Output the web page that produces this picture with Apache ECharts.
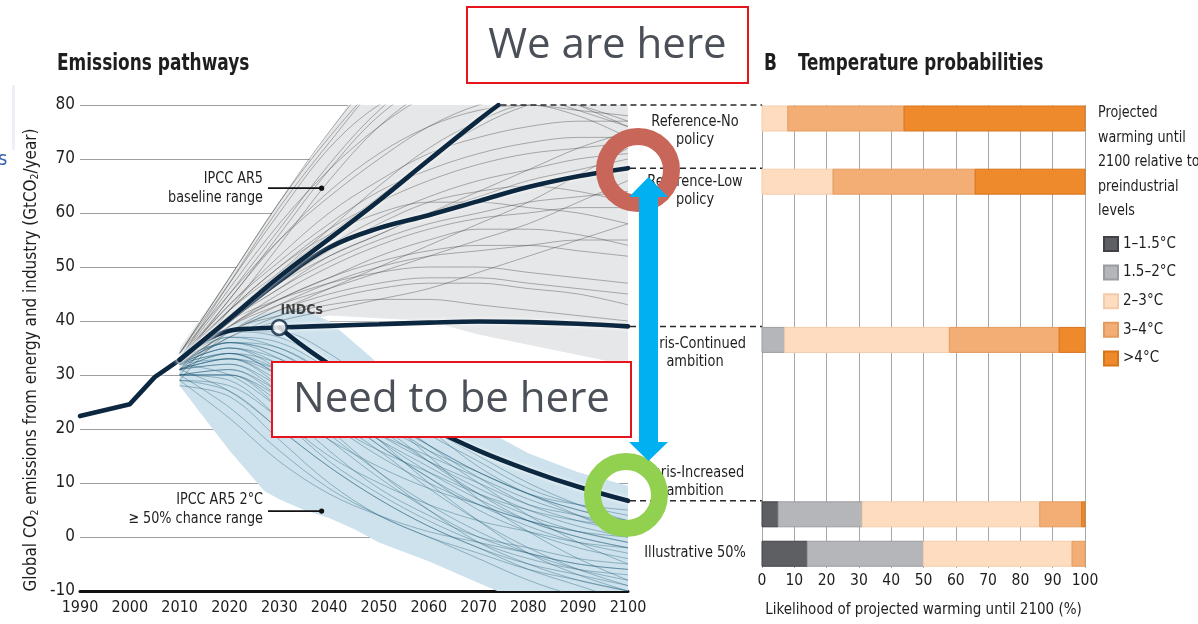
<!DOCTYPE html>
<html>
<head>
<meta charset="utf-8">
<title>Emissions pathways and temperature probabilities</title>
<script src="https://cdn.jsdelivr.net/npm/echarts@6/dist/echarts.min.js"></script>
<style>
  html, body { margin: 0; padding: 0; background: #ffffff; }
  #chart { width: 1198px; height: 624px; }
</style>
</head>
<body>
<div id="chart"></div>
<script>
// ---------- Data ----------
// Years used by the scenario ensembles
const runYears = [2010, 2020, 2030, 2040, 2050, 2060, 2070, 2080, 2090, 2100];

// Historical emissions (GtCO2/year)
const historical = [[1990, 22.4], [2000, 24.6], [2005, 29.6], [2010, 32.8]];

// Highlighted pathways
const indcPath = [[2010, 32.8], [2015, 36.3], [2020, 38.2], [2025, 38.6], [2030, 38.8]];
const parisContinued = [[2030, 38.8], [2040, 39.1], [2050, 39.4], [2060, 39.7], [2070, 39.9], [2080, 39.8], [2090, 39.5], [2100, 39.0]];
const parisIncreased = [[2030, 38.8], [2035, 35.2], [2040, 32.0], [2050, 26.0], [2060, 20.4], [2070, 16.0], [2080, 12.4], [2090, 9.3], [2100, 6.7]];
const referenceLow = [[2010, 32.8], [2020, 40.2], [2030, 47.4], [2040, 53.6], [2050, 57.2], [2060, 59.6], [2070, 62.2], [2080, 64.8], [2090, 66.8], [2100, 68.3]];
const referenceNo = [[2010, 32.8], [2020, 40.4], [2030, 48.2], [2040, 55.2], [2050, 62.3], [2060, 69.8], [2070, 77.2], [2074, 80.0]];
const indcPoint = [[2030, 38.8]];

// IPCC AR5 ranges: [year, low, high]
const baselineRange = [[2010, 30, 35], [2020, 35, 48], [2030, 39, 62], [2040, 41, 75], [2050, 40.5, 88], [2060, 40, 96], [2070, 37.5, 100], [2080, 35.6, 100], [2090, 33.7, 100], [2100, 31.8, 100]];
const twoDegreeRange = [[2010, 28, 34.5], [2015, 22, 37], [2020, 16, 39], [2027, 8.5, 41.5], [2030, 7, 42], [2035, 5, 42], [2040, 3.5, 40], [2045, 1.5, 36], [2050, -1, 32], [2060, -4.5, 26], [2070, -8.5, 20.5], [2075, -10.5, 18], [2080, -12, 15.5], [2090, -13, 12], [2100, -13, 9.5]];

// Individual baseline scenario runs (values at runYears)
const baselineRuns = [
  [33, 47, 61, 73, 84, 92, 97, 100, 101, 102],
  [34, 48, 62, 74, 84, 90, 94, 96, 97, 98],
  [33, 46, 58, 68, 76, 82, 86, 88, 89, 90],
  [32, 44, 55, 64, 71, 76, 79, 80, 79, 78],
  [33, 43, 52, 60, 66, 71, 74, 76, 77, 77],
  [32, 42, 50, 57, 62, 66, 69, 71, 72, 73],
  [33, 41, 48, 54, 59, 63, 66, 68, 70, 71],
  [32, 40, 46, 52, 56, 60, 63, 66, 68, 70],
  [33, 42, 49, 56, 63, 70, 76, 80, 82, 82],
  [32, 39, 45, 50, 54, 57, 59, 60, 61, 61],
  [33, 40, 46, 51, 55, 58, 60, 62, 63, 64],
  [32, 38, 43, 47, 50, 52, 53, 54, 55, 55],
  [33, 39, 44, 48, 51, 53, 54, 54, 53, 52],
  [32, 38, 42, 45, 47, 48, 48, 47, 46, 45],
  [33, 39, 43, 46, 49, 52, 55, 58, 62, 66],
  [32, 37, 41, 44, 46, 47, 47, 46, 45, 43],
  [33, 41, 49, 57, 65, 72, 77, 80, 78, 74],
  [32, 40, 47, 53, 58, 62, 64, 65, 64, 62],
  [33, 44, 56, 68, 78, 84, 86, 84, 80, 76],
  [34, 47, 60, 72, 80, 84, 84, 82, 79, 76],
  [32, 38, 42, 46, 50, 54, 58, 62, 67, 72],
  [33, 40, 44, 47, 49, 50, 50, 49, 48, 47],
  [31, 37, 40, 42, 44, 46, 49, 52, 55, 58],
  [33, 42, 50, 56, 60, 62, 62, 61, 60, 58],
  [34, 45, 55, 63, 70, 76, 80, 82, 80, 77],
  [30, 39, 44, 48, 52, 55, 57, 57, 56, 54],
  [33, 43, 51, 58, 64, 68, 71, 73, 74, 74],
  [29, 38, 41, 43, 44, 44, 43, 42, 41, 40],
  [33, 45, 57, 69, 79, 86, 90, 92, 92, 92],
  [32, 41, 47, 52, 56, 60, 64, 68, 72, 75],
  [34, 48, 62, 75, 86, 94, 98, 99, 99, 98],
  [31, 42, 54, 66, 76, 83, 88, 90, 88, 84]
];

// Individual 2°C (>=50% chance) scenario runs (values at runYears)
const mitigationRuns = [
  [32, 36, 34, 28, 21, 14, 8, 3, 0, -2],
  [31, 34, 30, 24, 17, 11, 5, 1, -2, -4],
  [33, 37, 36, 31, 24, 17, 11, 6, 3, 1],
  [30, 31, 26, 19, 12, 6, 1, -3, -6, -8],
  [32, 35, 32, 26, 20, 14, 9, 5, 2, 0],
  [31, 33, 28, 20, 12, 5, -1, -5, -8, -10],
  [30, 29, 22, 14, 8, 3, -1, -4, -6, -7],
  [33, 38, 38, 34, 27, 20, 13, 8, 5, 3],
  [32, 34, 30, 25, 19, 14, 10, 6, 4, 2],
  [29, 27, 20, 13, 7, 2, -2, -5, -7, -9],
  [31, 33, 31, 27, 22, 16, 10, 4, -1, -5],
  [32, 36, 35, 30, 23, 15, 7, 1, -4, -8],
  [30, 30, 25, 18, 11, 5, 0, -3, -5, -6],
  [33, 36, 33, 27, 21, 16, 12, 8, 6, 5],
  [31, 32, 27, 21, 15, 10, 6, 3, 1, 0],
  [32, 35, 33, 29, 25, 20, 15, 10, 6, 3],
  [30, 30, 24, 16, 9, 4, 0, -2, -4, -5],
  [31, 34, 32, 26, 18, 10, 3, -3, -7, -10],
  [33, 37, 35, 30, 25, 19, 14, 9, 6, 4],
  [29, 28, 22, 15, 10, 6, 3, 1, -1, -2],
  [32, 35, 31, 24, 17, 11, 6, 2, -1, -3],
  [31, 32, 28, 23, 18, 13, 8, 4, 1, -1],
  [30, 31, 27, 22, 16, 9, 3, -2, -6, -9],
  [33, 36, 34, 29, 23, 17, 12, 8, 5, 3],
  [32, 33, 29, 24, 19, 15, 11, 7, 4, 1],
  [31, 33, 30, 25, 18, 12, 7, 3, 0, -2],
  [30, 30, 26, 21, 16, 12, 8, 5, 3, 2],
  [32, 34, 31, 27, 22, 17, 12, 8, 4, 0],
  [28, 26, 18, 10, 4, 0, -4, -8, -11, -13],
  [33, 38, 37, 32, 26, 21, 16, 12, 9, 7],
  [30, 24, 16, 9, 4, 0, -3, -6, -8, -10],
  [31, 27, 20, 13, 7, 2, -2, -6, -9, -12],
  [29, 22, 14, 8, 4, 1, -1, -3, -5, -6],
  [32, 30, 24, 18, 13, 9, 6, 3, 1, -1]
];

// Temperature probabilities (likelihood %, per scenario row)
const scenarioNames = ['Reference-No\npolicy', 'Reference-Low\npolicy', 'Paris-Continued\nambition', 'Paris-Increased\nambition', 'Illustrative 50%'];
const warmingClasses = ['1–1.5°C', '1.5–2°C', '2–3°C', '3–4°C', '>4°C'];
const share1to15 = [0, 0, 0, 5, 14];
const share15to2 = [0, 0, 7, 26, 36];
const share2to3 = [8, 22, 51, 55, 46];
const share3to4 = [36, 44, 34, 13, 4];
const shareAbove4 = [56, 34, 8, 1, 0];

// Axis ticks
const yearTicks = [1990, 2000, 2010, 2020, 2030, 2040, 2050, 2060, 2070, 2080, 2090, 2100];
const emissionTicks = [-10, 0, 10, 20, 30, 40, 50, 60, 70, 80];
const likelihoodTicks = [0, 10, 20, 30, 40, 50, 60, 70, 80, 90, 100];

// ---------- Styles ----------
const NARROW = "'DejaVu Sans Condensed','Liberation Sans Narrow',sans-serif";
const INK = '#1e1e1e';
const NAVY = '#0c2740';
const classColors = ['#5d5f63', '#b5b6b9', '#fddcbf', '#f3ae75', '#ef8a2c'];
const classBorders = ['#404246', '#9b9c9f', '#f2ccaa', '#e39b5e', '#d8741a'];
const BAR_H = 25;

const last = arr => arr[arr.length - 1][1];
// Each probability row hangs below the 2100 level of its scenario
const rowLevels = [Math.min(80, last(referenceNo)), last(referenceLow), last(parisContinued), last(parisIncreased), -0.6];

const chart = echarts.init(document.getElementById('chart'), null, { renderer: 'canvas' });

function bandSeries(name, band, fill) {
  return {
    name: name, type: 'custom', xAxisIndex: 0, yAxisIndex: 0,
    clip: true, silent: true, z: 1,
    data: [[band[0][0], band[0][1]]],
    renderItem: function (params, api) {
      const upper = band.map(p => api.coord([p[0], p[2]]));
      const lower = band.slice().reverse().map(p => api.coord([p[0], p[1]]));
      return { type: 'polygon', shape: { points: upper.concat(lower) }, style: { fill: fill } };
    }
  };
}

function runSeries(runs, color) {
  return runs.map(r => ({
    type: 'line', xAxisIndex: 0, yAxisIndex: 0, silent: true,
    data: runYears.map((y, i) => [y, r[i]]),
    showSymbol: false, smooth: 0.35, z: 3,
    lineStyle: { color: color, width: 0.9 }
  }));
}

function pathway(data, smooth) {
  return {
    type: 'line', xAxisIndex: 0, yAxisIndex: 0, silent: true,
    data: data, showSymbol: false, smooth: smooth, z: 6,
    lineStyle: { color: NAVY, width: 4.6, cap: 'round', shadowColor: 'rgba(255,255,255,0.95)', shadowBlur: 4 }
  };
}

const classShares = [share1to15, share15to2, share2to3, share3to4, shareAbove4];
const barSeries = warmingClasses.map((cls, c) => {
  const items = [];
  scenarioNames.forEach((s, r) => {
    let start = 0;
    for (let k = 0; k < c; k++) start += classShares[k][r];
    const w = classShares[c][r];
    if (w > 0) items.push([start, start + w, rowLevels[r]]);
  });
  return {
    name: cls, type: 'custom', xAxisIndex: 1, yAxisIndex: 1, z: 4,
    itemStyle: { color: classColors[c], borderColor: classBorders[c], borderWidth: 1 },
    encode: { x: [0, 1], y: 2 },
    data: items,
    renderItem: function (params, api) {
      const a = api.coord([api.value(0), api.value(2)]);
      const b = api.coord([api.value(1), api.value(2)]);
      return {
        type: 'rect',
        shape: { x: a[0], y: a[1] + 1, width: b[0] - a[0], height: BAR_H },
        style: api.style({ lineWidth: 1 })
      };
    }
  };
});

const option = {
  animation: false,
  backgroundColor: '#ffffff',
  grid: [
    { left: 80, top: 105, width: 548, height: 486 },
    { left: 762, top: 105, width: 323, height: 463 }
  ],
  xAxis: [
    {
      gridIndex: 0, type: 'value', min: yearTicks[0], max: yearTicks[yearTicks.length - 1], interval: 10,
      axisLine: { show: true, onZero: false, lineStyle: { color: '#111', width: 3 } },
      axisTick: { show: false }, splitLine: { show: false },
      axisLabel: { fontFamily: NARROW, fontSize: 16, color: INK, margin: 9, formatter: v => String(v) }
    },
    {
      gridIndex: 1, type: 'value', min: likelihoodTicks[0], max: likelihoodTicks[likelihoodTicks.length - 1], interval: 10,
      axisLine: { show: false }, axisTick: { show: false },
      splitLine: { show: true, lineStyle: { color: '#a8a8a8', width: 1 } },
      axisLabel: { fontFamily: NARROW, fontSize: 15.5, color: INK, margin: 5, formatter: v => String(v) },
      name: 'Likelihood of projected warming until 2100 (%)', nameLocation: 'middle', nameGap: 35,
      nameTextStyle: { fontFamily: NARROW, fontSize: 15, color: INK }
    }
  ],
  yAxis: [
    {
      gridIndex: 0, type: 'value', min: emissionTicks[0], max: emissionTicks[emissionTicks.length - 1], interval: 10,
      axisLine: { show: false }, axisTick: { show: false },
      splitLine: { show: true, lineStyle: { color: '#9e9e9e', width: 1.2 } },
      axisLabel: { fontFamily: NARROW, fontSize: 17, color: INK, margin: 5 }
    },
    {
      gridIndex: 1, type: 'value', min: 80 - 463 / 5.4, max: 80, show: false,
      splitLine: { show: false }
    }
  ],
  legend: {
    data: warmingClasses, orient: 'vertical', left: 1098, top: 231,
    itemWidth: 14, itemHeight: 14, itemGap: 12.6, icon: 'rect', selectedMode: false,
    textStyle: { fontFamily: NARROW, fontSize: 15, color: INK, lineHeight: 14 }
  },
  series: [
    bandSeries('IPCC AR5 baseline range', baselineRange, '#e6e7e8'),
    bandSeries('IPCC AR5 2°C range', twoDegreeRange, '#cde2ec'),
    ...runSeries(baselineRuns, 'rgba(55,55,55,0.42)'),
    ...runSeries(mitigationRuns, 'rgba(28,88,118,0.42)'),
    pathway(historical, false),
    pathway(indcPath, 0.4),
    pathway(parisContinued, 0.4),
    pathway(parisIncreased, 0.4),
    pathway(referenceLow, 0.4),
    pathway(referenceNo, 0.4),
    {
      type: 'scatter', xAxisIndex: 0, yAxisIndex: 0, silent: true, z: 8,
      data: indcPoint, symbolSize: 15,
      itemStyle: { color: '#ffffff', borderColor: NAVY, borderWidth: 2.6 },
      label: { show: true, formatter: 'INDCs', position: [10, -8], align: 'left', verticalAlign: 'middle',
               fontFamily: NARROW, fontWeight: 'bold', fontSize: 14, color: INK }
    },
    ...barSeries
  ]
};

chart.setOption(option);

// ---------- Annotations positioned through the chart scales ----------
const px0 = pt => chart.convertToPixel({ gridIndex: 0 }, pt);
const px1 = pt => chart.convertToPixel({ gridIndex: 1 }, pt);
const barLeft = px1([0, 0])[0];

function txt(x, y, text, size, opts) {
  opts = opts || {};
  return {
    type: 'text', x: x, y: y, z: opts.z || 50, rotation: opts.rotation || 0,
    scaleX: opts.scaleX || 1,
    style: {
      text: text, fill: opts.color || INK,
      font: (opts.weight || 'normal') + ' ' + size + 'px ' + (opts.family || NARROW),
      align: opts.align || 'left', textAlign: opts.align || 'left',
      verticalAlign: 'middle', textVerticalAlign: 'middle',
      lineHeight: opts.lineHeight || size * 1.15
    }
  };
}

const graphics = [];

// Titles
graphics.push(txt(57, 64, 'Emissions pathways', 23, { weight: 'bold', scaleX: 0.82 }));
graphics.push(txt(764, 64, 'B', 23, { weight: 'bold', scaleX: 0.82 }));
graphics.push(txt(798, 64, 'Temperature probabilities', 23, { weight: 'bold', scaleX: 0.81 }));

// Rotated y-axis title with subscripts
graphics.push({
  type: 'text', x: 31, y: 360, rotation: Math.PI / 2, z: 50, scaleX: 0.94,
  style: {
    text: '{a|Global CO}{s|2}{a| emissions from energy and industry (GtCO}{s|2}{a|/year)}',
    align: 'center', textAlign: 'center', verticalAlign: 'middle', textVerticalAlign: 'middle',
    rich: {
      a: { fontFamily: NARROW, fontSize: 18, fill: INK, color: INK, lineHeight: 20 },
      s: { fontFamily: NARROW, fontSize: 11, fill: INK, color: INK, lineHeight: 20, padding: [9, 0, 0, 0] }
    }
  }
});

// Edge fragments
graphics.push({ type: 'rect', z: 1, shape: { x: 12, y: 85, width: 3, height: 65 }, style: { fill: '#eef0f8' } });
graphics.push(txt(-2, 160, 's', 20, { color: '#3c62ad' }));

// Range labels with leader lines
const basePt = px0([2038.5, 64.6]);
const twoPt = px0([2038.5, 4.8]);
graphics.push(txt(263, basePt[1], 'IPCC AR5\nbaseline range', 16, { align: 'right', lineHeight: 18.5, scaleX: 0.89 }));
graphics.push({ type: 'line', z: 20, shape: { x1: 268, y1: basePt[1], x2: basePt[0], y2: basePt[1] }, style: { stroke: '#111', lineWidth: 1.6 } });
graphics.push({ type: 'circle', z: 20, shape: { cx: basePt[0], cy: basePt[1], r: 2.6 }, style: { fill: '#111' } });
graphics.push(txt(263, twoPt[1] - 2, 'IPCC AR5 2°C\n≥ 50% chance range', 16, { align: 'right', lineHeight: 19, scaleX: 0.89 }));
graphics.push({ type: 'line', z: 20, shape: { x1: 268, y1: twoPt[1], x2: twoPt[0], y2: twoPt[1] }, style: { stroke: '#111', lineWidth: 1.6 } });
graphics.push({ type: 'circle', z: 20, shape: { cx: twoPt[0], cy: twoPt[1], r: 2.6 }, style: { fill: '#111' } });

// Dashed connectors from pathway ends to the probability bars
const connectorStarts = [
  referenceNo[referenceNo.length - 1],
  referenceLow[referenceLow.length - 1],
  parisContinued[parisContinued.length - 1],
  parisIncreased[parisIncreased.length - 1]
];
connectorStarts.forEach(pt => {
  const a = px0(pt);
  graphics.push({
    type: 'line', z: 7,
    shape: { x1: a[0] + 2, y1: a[1], x2: barLeft, y2: a[1] },
    style: { stroke: '#2a2a2a', lineWidth: 1.5, lineDash: [6, 4] }
  });
});

// Scenario row labels
const labelX = 695;
const labelY = [131, 191, 353, 482, 553];
scenarioNames.forEach((name, i) => {
  graphics.push(txt(labelX, labelY[i], name, 16, { align: 'center', lineHeight: 18.5, scaleX: 0.9 }));
});

// Legend heading
graphics.push(txt(1098, 162, 'Projected\nwarming until\n2100 relative to\npreindustrial\nlevels', 16.5, { lineHeight: 24.5, scaleX: 0.86 }));

// Highlight overlays
graphics.push({ type: 'circle', z: 90, shape: { cx: 638, cy: 170, r: 33.5 }, style: { fill: 'none', stroke: '#c76659', lineWidth: 17 } });
graphics.push({ type: 'circle', z: 90, shape: { cx: 626, cy: 495, r: 33.5 }, style: { fill: 'none', stroke: '#92d050', lineWidth: 17 } });
graphics.push({
  type: 'polygon', z: 91,
  shape: { points: [[648.5, 177], [668, 197], [658, 197], [658, 442], [668, 442], [648.5, 461], [629, 442], [639, 442], [639, 197], [629, 197]] },
  style: { fill: '#00b0f0' }
});
graphics.push({ type: 'rect', z: 92, shape: { x: 467, y: 7, width: 281, height: 76 }, style: { fill: '#ffffff', stroke: '#e8141b', lineWidth: 2 } });
graphics.push(txt(607.5, 46, 'We are here', 42, { align: 'center', family: "'Open Sans', sans-serif", color: '#4b5058', z: 93 }));
graphics.push({ type: 'rect', z: 92, shape: { x: 272, y: 362, width: 359, height: 75 }, style: { fill: '#ffffff', stroke: '#e8141b', lineWidth: 2 } });
graphics.push(txt(451.5, 400, 'Need to be here', 42, { align: 'center', family: "'Open Sans', sans-serif", color: '#4b5058', z: 93 }));

chart.setOption({ graphic: { elements: graphics } });
</script>
</body>
</html>
